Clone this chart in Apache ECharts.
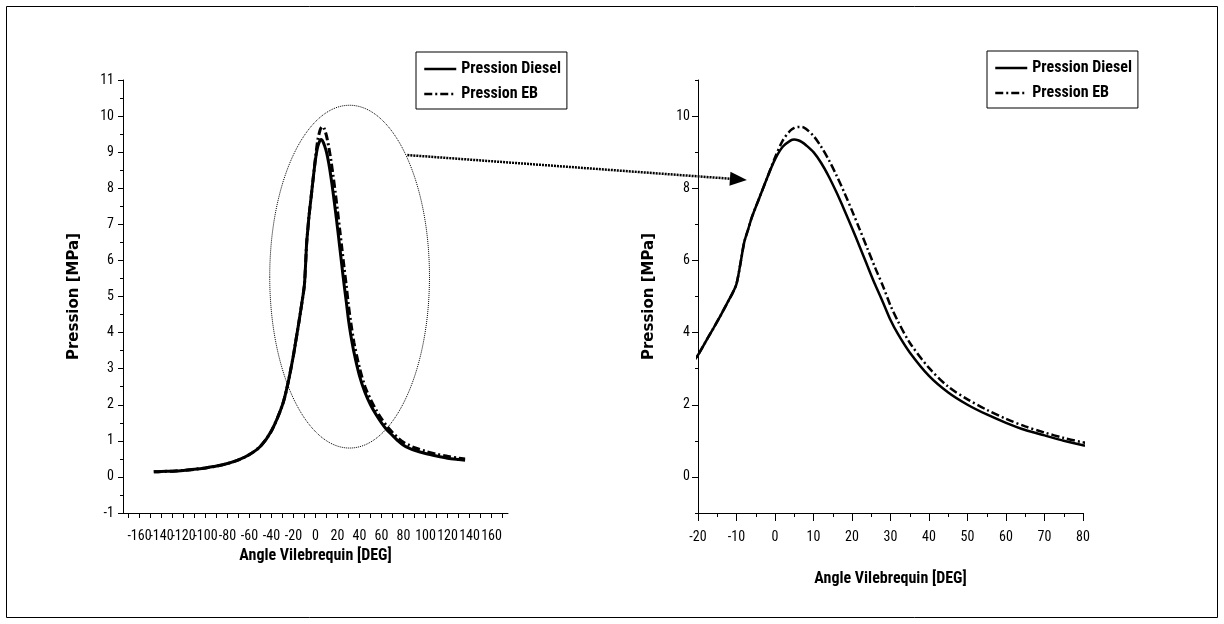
<!DOCTYPE html>
<html><head><meta charset="utf-8">
<script src="https://cdn.jsdelivr.net/npm/echarts@6/dist/echarts.min.js"></script>
<style>html,body{margin:0;padding:0;background:#fff}#c{width:1224px;height:624px}</style>
</head><body><div id="c"></div>
<script>
// ---- data ----
const angles = [-147,-140,-130,-120,-110,-100,-90,-80,-70,-60,-50,-40,-30,-25,-20,-18,-16,-14,-12,-11,-10,-9,-8,-7,-6,-4,-2,0,2,4,5,6,7,8,10,12,14,16,18,20,22,24,26,28,30,32,35,40,45,50,55,60,65,70,75,80,85,90,100,110,120,130,136];
const pressionDiesel = [0.14,0.15,0.16,0.18,0.21,0.25,0.30,0.37,0.47,0.62,0.85,1.28,2.0,2.6,3.38,3.75,4.12,4.5,4.9,5.1,5.35,5.9,6.5,6.85,7.2,7.75,8.3,8.8,9.15,9.32,9.35,9.33,9.28,9.2,9.0,8.7,8.32,7.88,7.4,6.9,6.38,5.85,5.33,4.85,4.35,3.95,3.45,2.8,2.34,2.0,1.73,1.5,1.3,1.15,1.0,0.88,0.8,0.74,0.65,0.58,0.52,0.48,0.46];
const pressionEB = [0.14,0.15,0.16,0.18,0.21,0.25,0.30,0.37,0.47,0.62,0.85,1.28,2.0,2.6,3.38,3.75,4.12,4.5,4.9,5.1,5.35,5.9,6.5,6.85,7.2,7.75,8.3,8.85,9.32,9.6,9.67,9.7,9.7,9.65,9.45,9.15,8.78,8.35,7.88,7.38,6.86,6.33,5.8,5.3,4.75,4.3,3.72,3.02,2.5,2.15,1.86,1.61,1.4,1.23,1.08,0.96,0.88,0.81,0.71,0.63,0.57,0.52,0.5];
const seriesNames = ['Pression Diesel', 'Pression EB'];
const leftXTicks = [-170,-160,-150,-140,-130,-120,-110,-100,-90,-80,-70,-60,-50,-40,-30,-20,-10,0,10,20,30,40,50,60,70,80,90,100,110,120,130,140,150,160,170];
const leftXLabels = [-160,-140,-120,-100,-80,-60,-40,-20,0,20,40,60,80,100,120,140,160];
const rightYLabels = [0,2,4,6,8,10];
const xTitle = 'Angle Vilebrequin [DEG]';
const yTitle = 'Pression [MPa]';

// ---- styles ----
const NARROW = "'Liberation Sans Narrow','Arial Narrow','Roboto Condensed','DejaVu Sans Condensed',sans-serif";
const tickFont = {color:'#000', fontFamily:NARROW, fontSize:14};
const blk = {color:'#000', width:1};
const LEFT_X_MIN = -175, LEFT_X_MAX = 175;

const dieselData = angles.map((a,i)=>[a, pressionDiesel[i]]);
const ebData = angles.map((a,i)=>[a, pressionEB[i]]);

const chart = echarts.init(document.getElementById('c'), null, {renderer:'canvas'});

function legendAt(left, top){
  return {
    data: seriesNames, orient:'vertical', left:left, top:top,
    padding:[9,6,7,7], itemWidth:32, itemHeight:16, itemGap:9,
    borderColor:'#000', borderWidth:1, borderRadius:0, backgroundColor:'#fff',
    itemStyle:{opacity:0, borderWidth:0},
    lineStyle:{width:2.5},
    textStyle:{color:'#000', fontFamily:NARROW, fontSize:16, fontWeight:'bold'},
    selectedMode:false
  };
}

const option = {
  animation:false,
  backgroundColor:'#fff',
  grid:[
    {left:123, top:80, width:385, height:433},
    {left:698, top:80, width:385, height:433},
    {left:698, top:80, width:385, height:433}
  ],
  legend:[ legendAt(416,52), legendAt(987,51) ],
  xAxis:[
    {gridIndex:0, type:'value', min:LEFT_X_MIN, max:LEFT_X_MAX,
     axisLine:{onZero:false, lineStyle:blk},
     axisTick:{length:5, lineStyle:blk, customValues:leftXTicks},
     axisLabel:{margin:16, customValues:[LEFT_X_MIN].concat(leftXLabels, [LEFT_X_MAX]),
                formatter:v => leftXLabels.indexOf(v) >= 0 ? String(v) : '',
                showMinLabel:true, showMaxLabel:true, hideOverlap:false,
                color:'#000', fontFamily:NARROW, fontSize:14},
     splitLine:{show:false},
     name:xTitle, nameLocation:'middle', nameGap:32,
     nameTextStyle:{color:'#000', fontFamily:NARROW, fontSize:16, fontWeight:'bold'}},
    {gridIndex:1, type:'value', min:-20, max:80, interval:10,
     axisLine:{onZero:false, lineStyle:blk},
     axisTick:{length:8, lineStyle:blk},
     minorTick:{show:true, splitNumber:2, length:4, lineStyle:blk},
     axisLabel:Object.assign({margin:17}, tickFont),
     splitLine:{show:false}, minorSplitLine:{show:false},
     name:xTitle, nameLocation:'middle', nameGap:58,
     nameTextStyle:{color:'#000', fontFamily:NARROW, fontSize:16, fontWeight:'bold'}},
    {gridIndex:2, type:'value', min:-20, max:80, show:false}
  ],
  yAxis:[
    {gridIndex:0, type:'value', min:-1, max:11, interval:1,
     axisLine:{onZero:false, lineStyle:blk},
     axisTick:{length:5, lineStyle:blk},
     minorTick:{show:true, splitNumber:2, length:3, lineStyle:blk},
     axisLabel:Object.assign({margin:9}, tickFont),
     splitLine:{show:false}, minorSplitLine:{show:false},
     name:yTitle, nameLocation:'middle', nameGap:41,
     nameTextStyle:{color:'#000', fontFamily:'DejaVu Sans', fontSize:15, fontWeight:'bold'}},
    {gridIndex:1, type:'value', min:-1, max:11, interval:1,
     axisLine:{onZero:false, lineStyle:blk},
     axisTick:{length:3, lineStyle:blk},
     axisLabel:{show:false},
     splitLine:{show:false},
     name:yTitle, nameLocation:'middle', nameGap:41,
     nameTextStyle:{color:'#000', fontFamily:'DejaVu Sans', fontSize:15, fontWeight:'bold'}},
    {gridIndex:2, type:'value', min:-1, max:11,
     axisLine:{show:false, onZero:false},
     axisTick:{length:6, lineStyle:blk, customValues:rightYLabels},
     axisLabel:Object.assign({margin:8, customValues:rightYLabels}, tickFont),
     splitLine:{show:false}}
  ],
  series:[
    {name:seriesNames[0], type:'line', xAxisIndex:0, yAxisIndex:0, data:dieselData, symbol:'none', smooth:0.3,
     lineStyle:{color:'#000', width:3}, itemStyle:{color:'#000'}, z:3},
    {name:seriesNames[1], type:'line', xAxisIndex:0, yAxisIndex:0, data:ebData, symbol:'none', smooth:0.3,
     lineStyle:{color:'#000', width:3, type:[8,3,2,3]}, itemStyle:{color:'#000'}, z:4},
    {name:seriesNames[0], type:'line', xAxisIndex:1, yAxisIndex:1, data:dieselData, symbol:'none', smooth:0.3,
     lineStyle:{color:'#000', width:2.5}, itemStyle:{color:'#000'}, z:3},
    {name:seriesNames[1], type:'line', xAxisIndex:1, yAxisIndex:1, data:ebData, symbol:'none', smooth:0.3,
     lineStyle:{color:'#000', width:2.5, type:[8,3,2,3]}, itemStyle:{color:'#000'}, z:4}
  ]
};
chart.setOption(option);

// ---- annotations: zoom ellipse + arrow, positioned through the axes ----
const L = {xAxisIndex:0, yAxisIndex:0}, R = {xAxisIndex:1, yAxisIndex:1};
const ec = chart.convertToPixel(L, [31, 5.55]);
const ex = chart.convertToPixel(L, [31 + 72.6, 5.55 + 4.75]);
const aStart = chart.convertToPixel(L, [83.5, 8.92]);
const aTip = chart.convertToPixel(R, [-7.3, 8.23]);
const dx = aTip[0]-aStart[0], dy = aTip[1]-aStart[1], len = Math.hypot(dx,dy);
const ux = dx/len, uy = dy/len, hl = 17, hw = 7;
const base = [aTip[0]-ux*hl, aTip[1]-uy*hl];
chart.setOption({graphic:[
  {type:'rect', shape:{x:6.5, y:6.5, width:1211, height:611}, style:{fill:'none', stroke:'#000', lineWidth:1}, silent:true, z:0},
  {type:'ellipse', shape:{cx:ec[0], cy:ec[1], rx:ex[0]-ec[0], ry:ec[1]-ex[1]},
   style:{fill:'none', stroke:'#000', lineWidth:1, lineDash:[1,1]}, silent:true, z:10},
  {type:'line', shape:{x1:aStart[0], y1:aStart[1], x2:base[0], y2:base[1]},
   style:{stroke:'#000', lineWidth:2.5, lineDash:[2,1]}, silent:true, z:10},
  {type:'polygon', shape:{points:[aTip, [base[0]-uy*hw, base[1]+ux*hw], [base[0]+uy*hw, base[1]-ux*hw]]},
   style:{fill:'#000'}, silent:true, z:10}
]});
</script>
</body></html>
